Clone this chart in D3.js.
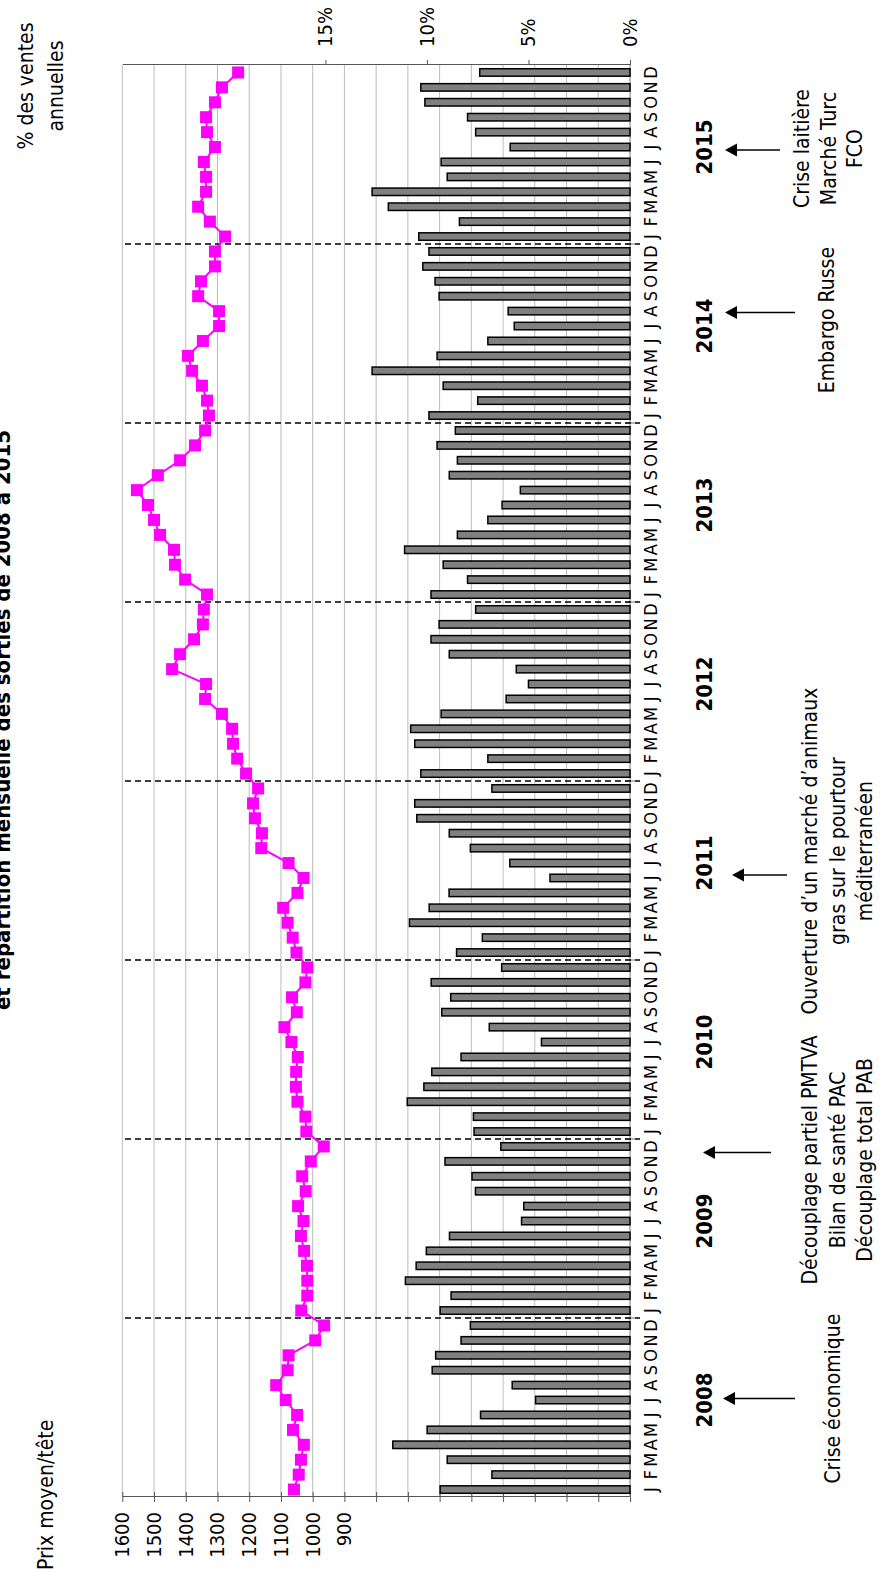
<!DOCTYPE html>
<html>
<head>
<meta charset="utf-8">
<script src="https://cdn.jsdelivr.net/npm/d3@7"></script>
<style>
body { margin: 0; background: #fff; }
text { font-family: "Liberation Sans Narrow", "DejaVu Sans Condensed", Arial, sans-serif; fill: #000; }
</style>
</head>
<body>
<div id="chart"></div>
<script>
// données (janvier 2008 -> décembre 2015)
var years = [2008, 2009, 2010, 2011, 2012, 2013, 2014, 2015];
var monthLetters = ["J","F","M","A","M","J","J","A","S","O","N","D"];

// prix moyen par tête (€)
var prixMoyen = [
  1059, 1044, 1037, 1028, 1062, 1049, 1085, 1115, 1079, 1076,  992,  964,
  1036, 1017, 1017, 1018, 1027, 1037, 1029, 1046, 1022, 1033, 1006,  965,
  1020, 1023, 1048, 1053, 1052, 1047, 1067, 1089, 1050, 1065, 1023, 1017,
  1051, 1063, 1079, 1093, 1048, 1029, 1076, 1162, 1160, 1182, 1188, 1172,
  1210, 1238, 1251, 1254, 1286, 1339, 1336, 1443, 1418, 1374, 1346, 1343,
  1333, 1402, 1434, 1437, 1481, 1500, 1519, 1554, 1488, 1418, 1371, 1339,
  1327, 1333, 1349, 1380, 1393, 1346, 1295, 1295, 1361, 1352, 1308, 1308,
  1276, 1324, 1361, 1336, 1336, 1343, 1308, 1333, 1336, 1308, 1286, 1235
];

// % des ventes annuelles
var partVentes = [
  9.35, 6.8, 9.0, 11.68, 9.99, 7.36, 4.65, 5.80, 9.74, 9.57, 8.32, 7.86,
  9.35, 8.81, 11.06, 10.53, 10.03, 8.89, 5.34, 5.23, 7.61, 7.78, 9.11, 6.36,
  7.68, 7.71, 10.97, 10.15, 9.76, 8.32, 4.36, 6.93, 9.27, 8.83, 9.79, 6.32,
  8.54, 7.27, 10.86, 9.89, 8.91, 3.94, 5.92, 7.86, 8.9, 10.5, 10.6, 6.8,
  10.3, 7.0, 10.6, 10.8, 9.3, 6.1, 5.0, 5.6, 8.9, 9.8, 9.4, 7.6,
  9.8, 8.0, 9.2, 11.1, 8.5, 7.0, 6.3, 5.4, 8.9, 8.5, 9.5, 8.6,
  9.9, 7.5, 9.2, 12.7, 9.5, 7.0, 5.7, 6.0, 9.4, 9.6, 10.2, 9.9,
  10.4, 8.4, 11.9, 12.7, 9.0, 9.3, 5.9, 7.6, 8.0, 10.1, 10.3, 7.4
];

var priceTicks = d3.range(0, 1700, 100);
var priceLabels = [900, 1000, 1100, 1200, 1300, 1400, 1500, 1600];
var pctTicks = [0, 5, 10, 15];

// évènements annotés (position en mois depuis janvier 2008)
var events = [
  {arrow: 6.1,  text: 6.1,  lines: ["Crise économique"]},
  {arrow: 22.6, text: 22.1, lines: ["Découplage partiel PMTVA", "Bilan de santé PAC", "Découplage total PAB"]},
  {arrow: 41.2, text: 42.8, lines: ["Ouverture d\u2019un marché d\u2019animaux", "gras sur le pourtour", "méditerranéen"]},
  {arrow: 78.9, text: 78.4, lines: ["Embargo Russe"]},
  {arrow: 89.8, text: 89.9, lines: ["Crise laitière", "Marché Turc", "FCO"]}
];
var eventGeom = [
  {y1: 723, y2: 795, ty: 840, lh: 27},
  {y1: 703, y2: 771, ty: 817, lh: 27.5},
  {y1: 732, y2: 787, ty: 817, lh: 27.5},
  {y1: 725, y2: 795, ty: 834, lh: 27},
  {y1: 725, y2: 780, ty: 809, lh: 26.5}
];

// le graphique est dessiné en paysage puis tourné de 90°
var W = 1572, H = 882;
var svg = d3.select("#chart").append("svg").attr("width", H).attr("height", W);
var g = svg.append("g").attr("transform", "translate(0," + W + ") rotate(-90)");

var left = 75, right = 1507, base = 630, plotTop = 122.3;
var months = d3.range(prixMoyen.length);
var x = d3.scaleBand().domain(months).range([left, right]).paddingInner(0.5).paddingOuter(0.25);
var yP = d3.scaleLinear().domain([0, 1600]).range([base, plotTop]);
var yV = d3.scaleLinear().domain([0, 25]).range([base, plotTop]);
var cx = function (i) { return x(i) + x.bandwidth() / 2; };
var posX = function (m) { return left + (m + 0.5) * x.step(); };
var boundary = function (i) { return (x(i - 1) + x.bandwidth() + x(i)) / 2; };

// grille
g.append("g").selectAll("line").data(priceTicks.filter(function (d) { return d > 0; })).enter().append("line")
    .attr("x1", left).attr("x2", right)
    .attr("y1", function (d) { return yP(d); }).attr("y2", function (d) { return yP(d); })
    .attr("stroke", "#bcbcbc").attr("stroke-width", 1);

// axe prix (gauche)
var axP = g.append("g").attr("transform", "translate(" + left + ",0)")
    .call(d3.axisLeft(yP).tickValues(priceTicks).tickSizeOuter(0).tickSizeInner(5).tickPadding(10)
        .tickFormat(function (d) { return priceLabels.indexOf(d) >= 0 ? d : ""; }));
axP.select(".domain").attr("stroke", "#555");
axP.selectAll(".tick line").attr("x1", -5).attr("x2", 5).attr("stroke", "#555");
axP.selectAll(".tick text").attr("font-size", 20).attr("font-family", null);

// axe % (droite)
var axV = g.append("g").attr("transform", "translate(" + right + ",0)")
    .call(d3.axisRight(yV).tickValues(pctTicks).tickSizeOuter(0).tickSizeInner(5).tickPadding(13)
        .tickFormat(function (d) { return d + "%"; }));
axV.select(".domain").attr("stroke", "#555");
axV.selectAll(".tick line").attr("stroke", "#555");
axV.selectAll(".tick text").attr("font-size", 20).attr("font-family", null);

// axe des mois
g.append("line").attr("x1", left).attr("x2", right).attr("y1", base).attr("y2", base).attr("stroke", "#777");
g.append("g").selectAll("line").data(d3.range(1, years.length)).enter().append("line")
    .attr("x1", function (k) { return boundary(k * 12); }).attr("x2", function (k) { return boundary(k * 12); })
    .attr("y1", base - 5).attr("y2", base + 5).attr("stroke", "#777");

// barres
g.append("g").selectAll("rect").data(partVentes).enter().append("rect")
    .attr("x", function (d, i) { return x(i); })
    .attr("y", function (d) { return yV(d); })
    .attr("width", x.bandwidth())
    .attr("height", function (d) { return base - yV(d); })
    .attr("fill", "#808080").attr("stroke", "#000").attr("stroke-width", 1.5);

// séparations des années
g.append("g").selectAll("line").data(d3.range(1, years.length)).enter().append("line")
    .attr("x1", function (k) { return boundary(k * 12); }).attr("x2", function (k) { return boundary(k * 12); })
    .attr("y1", 125).attr("y2", 640)
    .attr("stroke", "#000").attr("stroke-width", 1.5).attr("stroke-dasharray", "6,4");

// prix moyen
g.append("path").datum(prixMoyen)
    .attr("d", d3.line().x(function (d, i) { return cx(i); }).y(function (d) { return yP(d); }))
    .attr("fill", "none").attr("stroke", "#ff00ff").attr("stroke-width", 2);
g.append("g").selectAll("rect").data(prixMoyen).enter().append("rect")
    .attr("x", function (d, i) { return cx(i) - 6; })
    .attr("y", function (d) { return yP(d) - 6; })
    .attr("width", 12).attr("height", 12).attr("fill", "#ff00ff");

// lettres des mois et années
g.append("g").selectAll("text").data(months).enter().append("text")
    .attr("x", function (i) { return cx(i); }).attr("y", 657)
    .attr("text-anchor", "middle").attr("font-size", 18)
    .text(function (i) { return monthLetters[i % 12]; });
g.append("g").selectAll("text").data(years).enter().append("text")
    .attr("x", function (d, k) { return cx(k * 12 + 6); }).attr("y", 712)
    .attr("text-anchor", "middle").attr("font-size", 22).attr("font-weight", "bold")
    .text(function (d) { return d; });

// flèches et commentaires
events.forEach(function (ev, k) {
    var geo = eventGeom[k], ax = posX(ev.arrow);
    g.append("line").attr("x1", ax).attr("x2", ax).attr("y1", geo.y1 + 10).attr("y2", geo.y2)
        .attr("stroke", "#000").attr("stroke-width", 1.5);
    g.append("path").attr("d", "M" + ax + "," + geo.y1 + "L" + (ax - 6.5) + "," + (geo.y1 + 12) + "L" + (ax + 6.5) + "," + (geo.y1 + 12) + "Z")
        .attr("fill", "#000");
    var t = g.append("text").attr("text-anchor", "middle").attr("font-size", 21);
    ev.lines.forEach(function (l, j) {
        t.append("tspan").attr("x", posX(ev.text)).attr("y", geo.ty + j * geo.lh).text(l);
    });
});

// titres
g.append("text").attr("x", 2).attr("y", 53).attr("font-size", 21).text("Prix moyen/tête");
var tv = g.append("text").attr("text-anchor", "middle").attr("font-size", 21);
tv.append("tspan").attr("x", 1486).attr("y", 33).text("% des ventes");
tv.append("tspan").attr("x", 1486).attr("y", 63).text("annuelles");
g.append("text").attr("x", 852).attr("y", 10).attr("text-anchor", "middle")
    .attr("font-size", 22).attr("font-weight", "bold")
    .text("et répartition mensuelle des sorties de 2008 à 2015");
</script>
</body>
</html>
